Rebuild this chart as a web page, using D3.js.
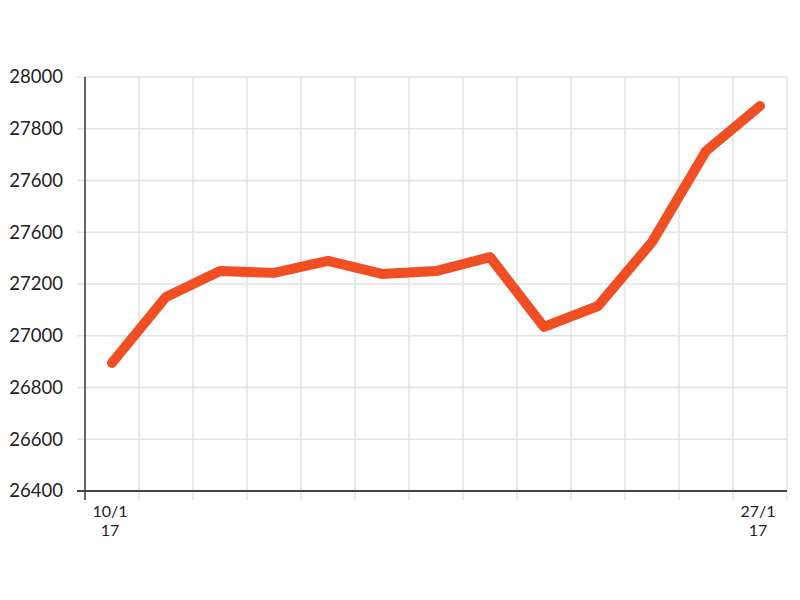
<!DOCTYPE html>
<html><head><meta charset="utf-8">
<script src="https://cdn.jsdelivr.net/npm/d3@7"></script>
<style>body{margin:0;background:#fff;}</style>
</head><body>
<svg id="c" width="800" height="600"></svg>
<script>
const dates = ["10/1 17","11/1 17","12/1 17","13/1 17","16/1 17","17/1 17","18/1 17","19/1 17","20/1 17","23/1 17","24/1 17","25/1 17","27/1 17"];
const values = [26895,27150,27250,27243,27289,27239,27250,27304,27034,27115,27362,27714,27888];
const yTickValues = [26400,26600,26800,27000,27200,27400,27600,27800,28000];
const yTickLabels = ["26400","26600","26800","27000","27200","27600","27600","27800","28000"];
const xLabelDates = ["10/1 17","27/1 17"];

const svg = d3.select("#c");
const L = 85, R = 787, T = 77, B = 491;
const x = d3.scaleBand().domain(dates).range([L, R]).padding(0);
const y = d3.scaleLinear().domain([26400, 28000]).range([B, T]);
const fontF = "Lato, 'Noto Sans', sans-serif";

// vertical gridlines (band boundaries)
const bounds = dates.map(d => x(d)).concat([R]).slice(1);
svg.append("g").selectAll("line").data(bounds).join("line")
  .attr("x1", d => d).attr("x2", d => d).attr("y1", T).attr("y2", B + 9)
  .attr("stroke", "#e3e3e3").attr("stroke-width", 1.5);

// horizontal gridlines
svg.append("g").selectAll("line").data(yTickValues).join("line")
  .attr("x1", L - 8).attr("x2", R).attr("y1", d => y(d)).attr("y2", d => y(d))
  .attr("stroke", "#e3e3e3").attr("stroke-width", 1.5);

// y axis
const yAxis = d3.axisLeft(y).tickValues(yTickValues)
  .tickFormat((d, i) => yTickLabels[i]).tickSize(0).tickPadding(22);
const gy = svg.append("g").attr("transform", `translate(${L},0)`).call(yAxis);
gy.select(".domain").remove();
gy.selectAll("text").attr("font-family", fontF).attr("font-size", 18.5).attr("fill", "#222");

// axis lines
svg.append("line").attr("x1", L).attr("x2", L).attr("y1", T).attr("y2", B + 9)
  .attr("stroke", "#333").attr("stroke-width", 1.5);
svg.append("line").attr("x1", L - 8).attr("x2", R).attr("y1", B).attr("y2", B)
  .attr("stroke", "#444").attr("stroke-width", 2);

// x labels
const xl = svg.append("g").selectAll("text").data(xLabelDates).join("text")
  .attr("x", d => x(d) + x.bandwidth() / 2 - 2).attr("y", 517)
  .attr("text-anchor", "middle").attr("font-family", fontF).attr("font-size", 16).attr("fill", "#222");
xl.append("tspan").attr("x", d => x(d) + x.bandwidth() / 2 - 2).text(d => d.split(" ")[0]);
xl.append("tspan").attr("x", d => x(d) + x.bandwidth() / 2 - 2).attr("dy", 19).text(d => d.split(" ")[1]);

// line
const line = d3.line().x((d, i) => x(dates[i]) + x.bandwidth() / 2).y(d => y(d));
svg.append("path").datum(values).attr("d", line)
  .attr("fill", "none").attr("stroke", "#f04e23").attr("stroke-width", 10)
  .attr("stroke-linejoin", "round").attr("stroke-linecap", "round");
</script>
</body></html>
